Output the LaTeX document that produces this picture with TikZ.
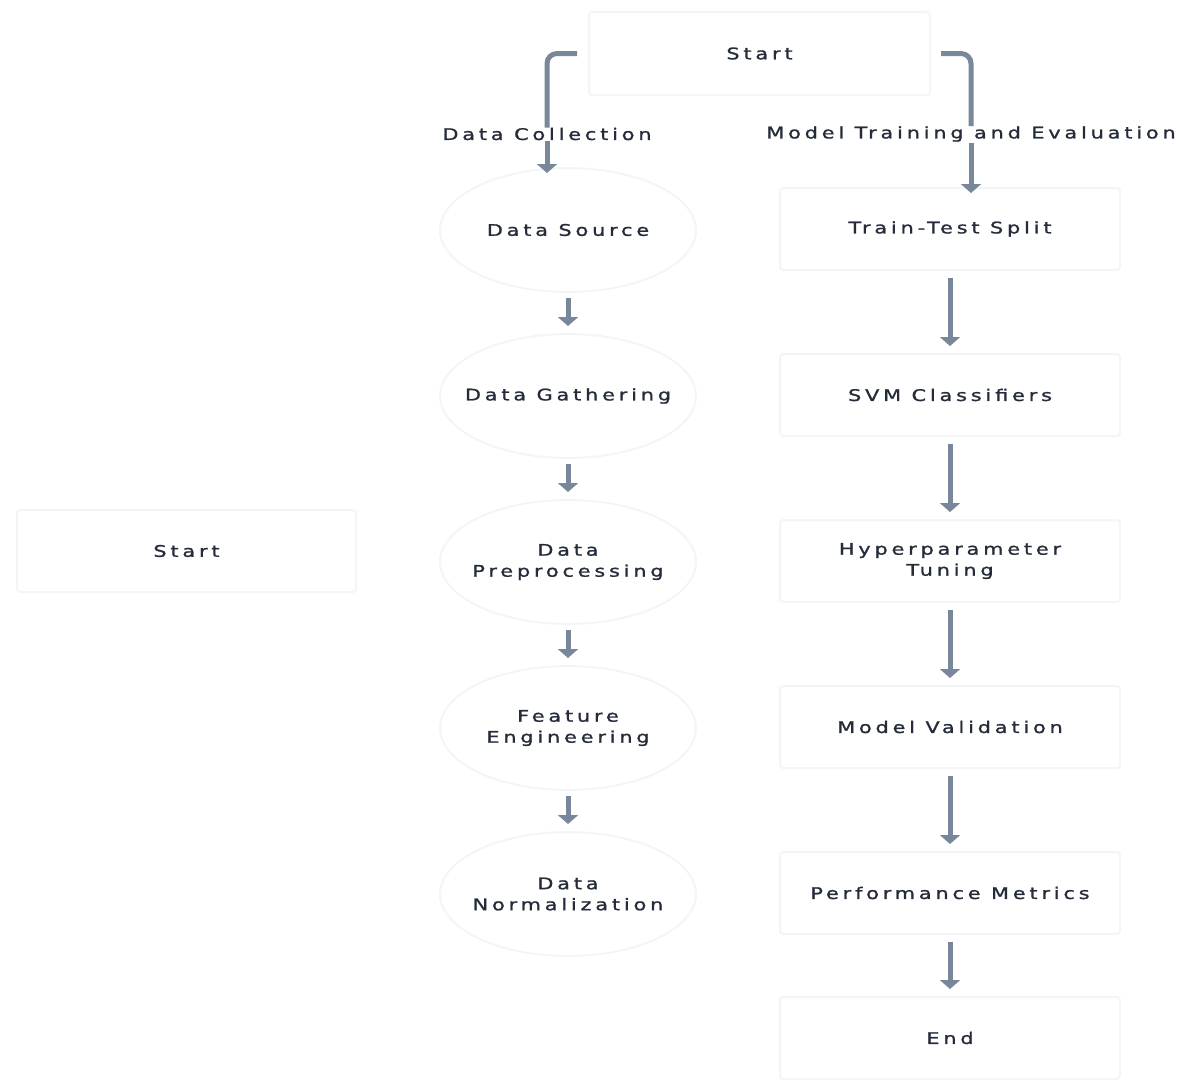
\documentclass[tikz,border=0pt]{standalone}
\usepackage{fontspec}
\setmainfont[LetterSpace=24, FakeStretch=1.3, FakeBold=1.2]{DejaVu Sans}
\usetikzlibrary{arrows.meta,shapes.geometric}
\definecolor{txt}{RGB}{36,44,58}
\definecolor{arr}{RGB}{120,135,153}
\definecolor{edge}{RGB}{244,245,247}
\tikzset{
  every node/.style={font=\fontsize{16}{21}\selectfont, text=txt, align=center},
  box/.style={draw=edge, line width=2pt, fill=white, rounded corners=3pt, minimum width=340pt, minimum height=82pt},
  oval/.style={ellipse, draw=edge, line width=2pt, fill=white, inner xsep=-40pt, inner ysep=0pt, minimum width=256pt, minimum height=124pt},
  lbl/.style={inner sep=1pt},
  conn/.style={draw=arr, line width=5pt},
  arrow/.style={conn, -{Triangle[width=20pt,length=9pt]}},
}
\begin{document}
\begin{tikzpicture}[x=1pt,y=-1pt]
\useasboundingbox (0,0) rectangle (1182,1079);
\node[box, minimum width=341pt, minimum height=83pt] (start) at (759.5,53.5) {Start};
\node[box, minimum width=339pt] (start2) at (186.5,551) {Start};

\node[oval] (ds) at (568,230) {Data Source};
\node[oval] (dg) at (568,396) {Data Gathering};
\node[oval] (dp) at (568,562) {Data\\Preprocessing};
\node[oval] (fe) at (568,728) {Feature\\Engineering};
\node[oval] (dn) at (568,894) {Data\\Normalization};

\node[box] (tt) at (950,229) {Train-Test Split};
\node[box] (svm) at (950,395) {SVM Classifiers};
\node[box] (hp) at (950,561) {Hyperparameter\\Tuning};
\node[box] (mv) at (950,727) {Model Validation};
\node[box] (pm) at (950,893) {Performance Metrics};
\node[box] (en) at (950,1038) {End};

\node[lbl] (dc) at (547,134) {Data Collection};
\node[lbl] (mt) at (971,134) {Model Training and Evaluation};

\draw[conn, rounded corners=10pt] ([xshift=-11pt]start.west) -- (start.west -| dc.north) -- ([yshift=-1pt]dc.north);
\draw[arrow] (dc.south) -- ([yshift=-6pt]dc.south |- ds.north);
\draw[conn, rounded corners=10pt] ([xshift=10pt]start.east) -- (start.east -| mt.north) -- ([yshift=-1pt]mt.north);
\draw[arrow] (mt.south) -- ([yshift=-6pt]mt.south |- tt.north);

\foreach \a/\b in {ds/dg, dg/dp, dp/fe, fe/dn}
  \draw[arrow, shorten <=5pt, shorten >=7pt] (\a.south) -- (\b.north);
\foreach \a/\b in {tt/svm, svm/hp, hp/mv, mv/pm, pm/en}
  \draw[arrow, shorten <=7pt, shorten >=7pt] (\a.south) -- (\b.north);
\end{tikzpicture}
\end{document}
